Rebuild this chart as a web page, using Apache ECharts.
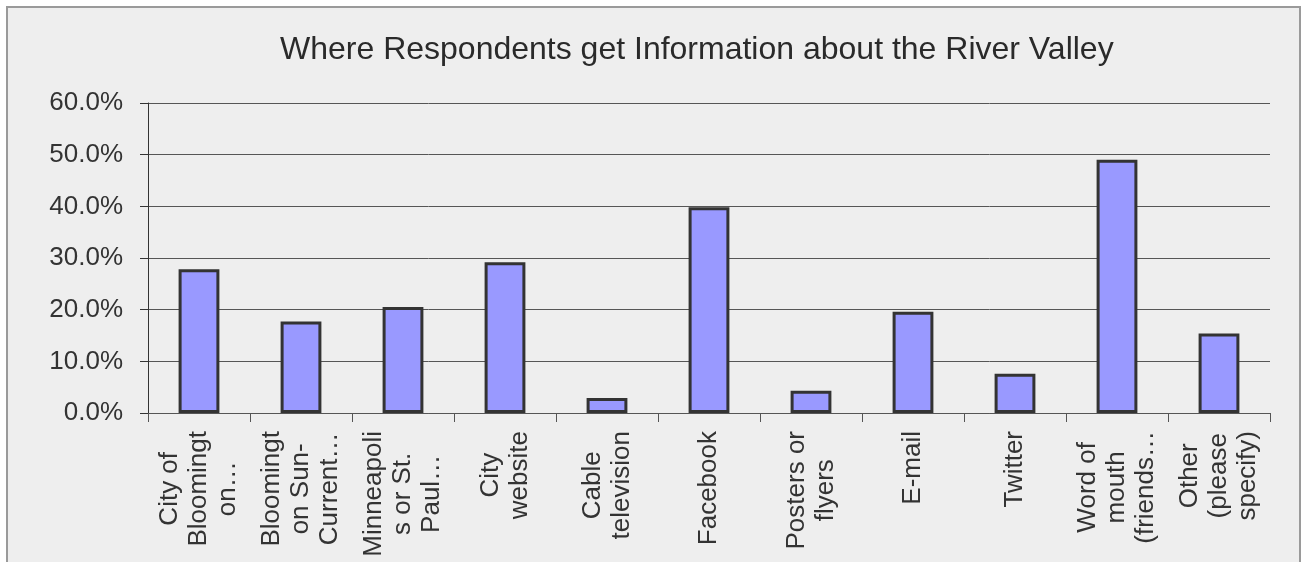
<!DOCTYPE html>
<html>
<head>
<meta charset="utf-8">
<style>
  html, body { margin: 0; padding: 0; background: #ffffff; }
  #chart { width: 1302px; height: 562px; }
</style>
<script src="https://cdn.jsdelivr.net/npm/echarts@6/dist/echarts.min.js"></script>
</head>
<body>
<div id="chart"></div>
<script>
const titleText = 'Where Respondents get Information about the River Valley';
const categories = [
  'City of\nBloomingt\non…',
  'Bloomingt\non Sun-\nCurrent…',
  'Minneapoli\ns or St.\nPaul…',
  'City\nwebsite',
  'Cable\ntelevision',
  'Facebook',
  'Posters or\nflyers',
  'E-mail',
  'Twitter',
  'Word of\nmouth\n(friends…',
  'Other\n(please\nspecify)'
];
const percentValues = [27.8, 17.7, 20.5, 29.2, 2.9, 39.8, 4.3, 19.6, 7.6, 49.0, 15.4];
const yTicks = { min: 0, max: 60, interval: 10 };

const FONT = '"Liberation Sans", Arial, sans-serif';
const chart = echarts.init(document.getElementById('chart'), null, { renderer: 'canvas' });

chart.setOption({
  backgroundColor: '#ffffff',
  animation: false,
  graphic: [{
    type: 'rect',
    z: -10,
    silent: true,
    shape: { x: 7, y: 7, width: 1293, height: 620 },
    style: { fill: '#eeeeee', stroke: '#9a9a9a', lineWidth: 2 }
  }],
  title: {
    text: titleText,
    left: 280,
    top: 34,
    padding: 0,
    textStyle: { fontFamily: FONT, fontSize: 32, fontWeight: 'normal', color: '#2a2a2a' }
  },
  grid: { left: 148, right: 32, top: 103, bottom: 149 },
  xAxis: {
    type: 'category',
    data: categories,
    axisLine: { show: true, lineStyle: { color: '#555555', width: 1 } },
    axisTick: { show: true, length: 9, lineStyle: { color: '#555555' } },
    axisLabel: {
      interval: 0,
      rotate: 90,
      margin: 18,
      fontFamily: FONT,
      fontSize: 26,
      lineHeight: 29,
      color: '#333333',
      formatter: function (v) {
        return v.split('\n').map(function (l) { return '{c|' + l + '}'; }).join('\n');
      },
      rich: {
        c: { align: 'center', fontFamily: FONT, fontSize: 26, lineHeight: 29, color: '#333333' }
      }
    },
    splitLine: { show: false }
  },
  yAxis: {
    type: 'value',
    min: yTicks.min,
    max: yTicks.max,
    interval: yTicks.interval,
    axisLine: { show: true, lineStyle: { color: '#333333', width: 1 } },
    axisTick: { show: true, length: 8, lineStyle: { color: '#333333' } },
    axisLabel: {
      margin: 25,
      fontFamily: FONT,
      fontSize: 26,
      color: '#333333',
      formatter: function (v) { return v.toFixed(1) + '%'; }
    },
    splitLine: { show: true, lineStyle: { color: '#555555', width: 1 } }
  },
  series: [{
    type: 'bar',
    data: percentValues,
    barWidth: '40%',
    itemStyle: { color: '#9999ff', borderColor: '#333333', borderWidth: 3 }
  }]
});
</script>
</body>
</html>
